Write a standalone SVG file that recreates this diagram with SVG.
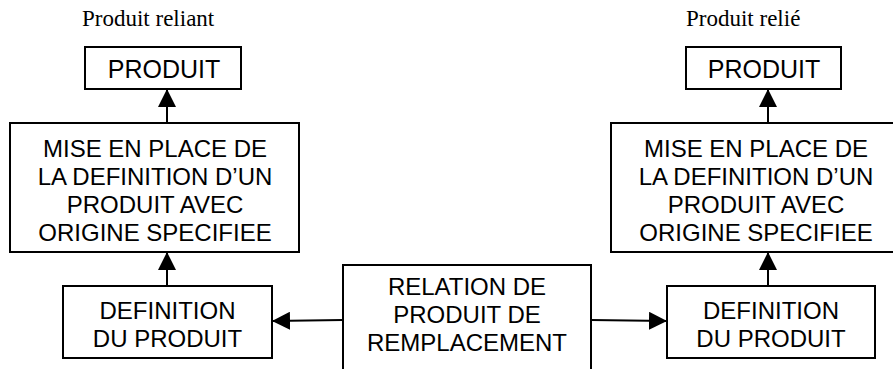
<svg xmlns="http://www.w3.org/2000/svg" width="893" height="369" viewBox="0 0 893 369">
<defs>
<style>
.box{fill:#fff;stroke:#000;stroke-width:2}
.t{font-family:"Liberation Sans",Arial,sans-serif;font-size:24px;fill:#000;text-anchor:middle}
.p{font-size:25px}
.s{font-family:"Liberation Serif","Times New Roman",serif;font-size:23px;fill:#000}
.c{stroke:#000;stroke-width:2;fill:none}
</style>
<marker id="ah" viewBox="0 0 10 10" refX="10" refY="5" markerWidth="18" markerHeight="18" markerUnits="userSpaceOnUse" orient="auto">
<path d="M0,0 L10,5 L0,10 Z" fill="#000"/>
</marker>
</defs>
<rect width="893" height="369" fill="#fff"/>
<text class="s" x="82" y="26">Produit reliant</text>
<text class="s" x="686" y="26">Produit relié</text>
<g id="connectors">
<line class="c" x1="167" y1="123" x2="167" y2="89" marker-end="url(#ah)"/>
<line class="c" x1="167" y1="286" x2="167" y2="252" marker-end="url(#ah)"/>
<line class="c" x1="768" y1="123" x2="768" y2="89" marker-end="url(#ah)"/>
<line class="c" x1="768" y1="286" x2="768" y2="252" marker-end="url(#ah)"/>
<line class="c" x1="343" y1="320" x2="272" y2="321" marker-end="url(#ah)"/>
<line class="c" x1="591" y1="320" x2="667" y2="321" marker-end="url(#ah)"/>
</g>
<g id="produit-left">
<rect class="box" x="85" y="47" width="156" height="42"/>
<text class="t p" x="164" y="78">PRODUIT</text>
</g>
<g id="mise-left">
<rect class="box" x="10" y="123" width="289" height="129"/>
<text class="t" x="155" y="157">MISE EN PLACE DE</text>
<text class="t" x="155" y="185">LA DEFINITION D’UN</text>
<text class="t" x="155" y="213">PRODUIT AVEC</text>
<text class="t" x="155" y="241">ORIGINE SPECIFIEE</text>
</g>
<g id="definition-left">
<rect class="box" x="63" y="286" width="209" height="72"/>
<text class="t" x="167.5" y="319">DEFINITION</text>
<text class="t" x="167.5" y="347">DU PRODUIT</text>
</g>
<g id="relation">
<rect class="box" x="343" y="265" width="248" height="120"/>
<text class="t" x="467" y="295">RELATION DE</text>
<text class="t" x="467" y="323">PRODUIT DE</text>
<text class="t" x="467" y="351">REMPLACEMENT</text>
</g>
<g id="produit-right">
<rect class="box" x="686" y="47" width="155" height="42"/>
<text class="t p" x="764" y="78">PRODUIT</text>
</g>
<g id="mise-right">
<rect class="box" x="611" y="123" width="289" height="129"/>
<text class="t" x="756" y="157">MISE EN PLACE DE</text>
<text class="t" x="756" y="185">LA DEFINITION D’UN</text>
<text class="t" x="756" y="213">PRODUIT AVEC</text>
<text class="t" x="756" y="241">ORIGINE SPECIFIEE</text>
</g>
<g id="definition-right">
<rect class="box" x="667" y="286" width="208" height="72"/>
<text class="t" x="771" y="319">DEFINITION</text>
<text class="t" x="771" y="347">DU PRODUIT</text>
</g>
</svg>
